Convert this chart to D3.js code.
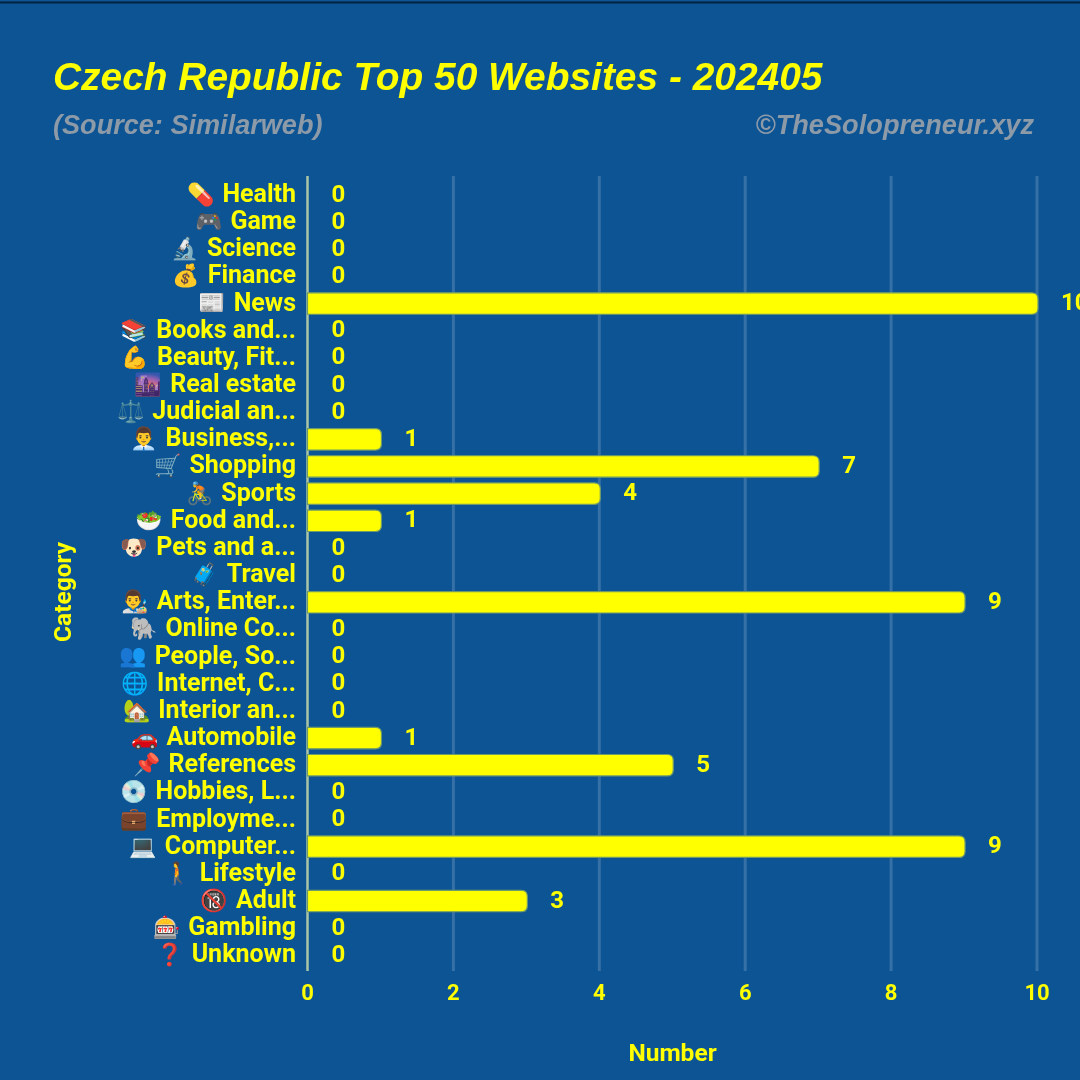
<!DOCTYPE html>
<html><head><meta charset="utf-8">
<script src="https://cdn.jsdelivr.net/npm/d3@7/dist/d3.min.js"></script>
<style>html,body{margin:0;padding:0;background:#0d5494;overflow:hidden}svg{display:block;filter:blur(0.55px)}</style></head>
<body><svg id="c" width="1080" height="1080"></svg>
<script>
const icons=["💊","🎮","🔬","💰","📰","📚","💪","🌆","⚖️","👨‍💼","🛒","🚴","🥗","🐶","🧳","👨‍🎨","🐘","👥","🌐","🏡","🚗","📌","💿","💼","💻","🚶","🔞","🎰","❓"];
const categories=["Health","Game","Science","Finance","News","Books and...","Beauty, Fit...","Real estate","Judicial an...","Business,...","Shopping","Sports","Food and...","Pets and a...","Travel","Arts, Enter...","Online Co...","People, So...","Internet, C...","Interior an...","Automobile","References","Hobbies, L...","Employme...","Computer...","Lifestyle","Adult","Gambling","Unknown"];
const values=[0,0,0,0,10,0,0,0,0,1,7,4,1,0,0,9,0,0,0,0,1,5,0,0,9,0,3,0,0];
const xTicks=[0,2,4,6,8,10];
const Y="#ffff00";
const svg=d3.select("#c");
svg.append("rect").attr("width",1080).attr("height",1080).attr("fill","#0d5494");
svg.append("rect").attr("y",1.5).attr("width",1080).attr("height",2).attr("fill","#03223f");
const x=d3.scaleLinear().domain([0,10]).range([307.5,1037]);
const y=d3.scaleBand().domain(categories).range([181.3,968.9]).paddingInner(0.21).paddingOuter(0.105);
const yc=d=>y(d)+y.bandwidth()/2;
const grid=svg.append("g");
grid.selectAll("line").data(xTicks.slice(1)).join("line").attr("x1",d=>x(d)).attr("x2",d=>x(d)).attr("y1",176).attr("y2",971).attr("stroke","#fff").attr("stroke-opacity",.17).attr("stroke-width",3);
svg.append("line").attr("x1",x(0)).attr("x2",x(0)).attr("y1",176).attr("y2",971).attr("stroke","#a9c6a6").attr("stroke-width",2.5);
const r=6;
svg.append("g").selectAll("path").data(categories.map((c,i)=>({c,v:values[i]})).filter(d=>d.v>0)).join("path")
 .attr("d",d=>{const a=x(0),b=x(d.v)+1,t=y(d.c),h=y.bandwidth();return `M${a},${t}H${b-r}Q${b},${t} ${b},${t+r}V${t+h-r}Q${b},${t+h} ${b-r},${t+h}H${a}Z`;})
 .attr("fill",Y).attr("stroke","#6f9a6a").attr("stroke-width",1.2);
const f="Roboto,'Liberation Sans',sans-serif";
svg.append("g").selectAll("text").data(categories).join("text")
 .attr("x",296).attr("y",d=>yc(d)-2).attr("dy",".36em").attr("text-anchor","end")
 .attr("font-family",f).attr("font-weight",700).attr("font-size",25).attr("fill",Y).attr("id",(d,i)=>"l"+i)
 .text(d=>d);
svg.append("g").selectAll("text").data(categories).join("text")
 .attr("x",(d,i)=>296-document.getElementById("l"+i).getComputedTextLength()-8).attr("y",d=>yc(d)-1).attr("dy",".36em").attr("text-anchor","end")
 .attr("font-size",22).attr("font-family","'Noto Color Emoji','Noto Sans',sans-serif").attr("fill",Y)
 .text((d,i)=>icons[i]);
svg.append("g").selectAll("text").data(values).join("text")
 .attr("x",d=>x(d)+24).attr("y",(d,i)=>yc(categories[i])-2).attr("dy",".36em")
 .attr("font-family",f).attr("font-weight",700).attr("font-size",24).attr("fill",Y).text(d=>d);
svg.append("g").selectAll("text").data(xTicks).join("text")
 .attr("x",d=>x(d)).attr("y",1000).attr("text-anchor","middle")
 .attr("font-family",f).attr("font-weight",700).attr("font-size",22).attr("fill",Y).text(d=>d);
svg.append("text").attr("x",672.5).attr("y",1061).attr("text-anchor","middle").attr("font-family",f).attr("font-weight",700).attr("font-size",24.5).attr("fill",Y).text("Number");
svg.append("text").attr("transform","translate(71,592) rotate(-90)").attr("text-anchor","middle").attr("font-family",f).attr("font-weight",700).attr("font-size",24.5).attr("fill",Y).text("Category");
const g="'Liberation Sans',Arial,sans-serif";
svg.append("text").attr("x",53).attr("y",90).attr("font-family",g).attr("font-weight",700).attr("font-style","italic").attr("font-size",38.9).attr("fill",Y).text("Czech Republic Top 50 Websites - 202405");
svg.append("text").attr("x",53).attr("y",134).attr("font-family",g).attr("font-style","italic").attr("font-weight",700).attr("font-size",27.1).attr("fill","#8d9aa8").text("(Source: Similarweb)");
svg.append("text").attr("x",1034).attr("y",134).attr("text-anchor","end").attr("font-family",g).attr("font-style","italic").attr("font-weight",700).attr("font-size",27.2).attr("fill","#8d9aa8").text("©TheSolopreneur.xyz");
</script></body></html>
